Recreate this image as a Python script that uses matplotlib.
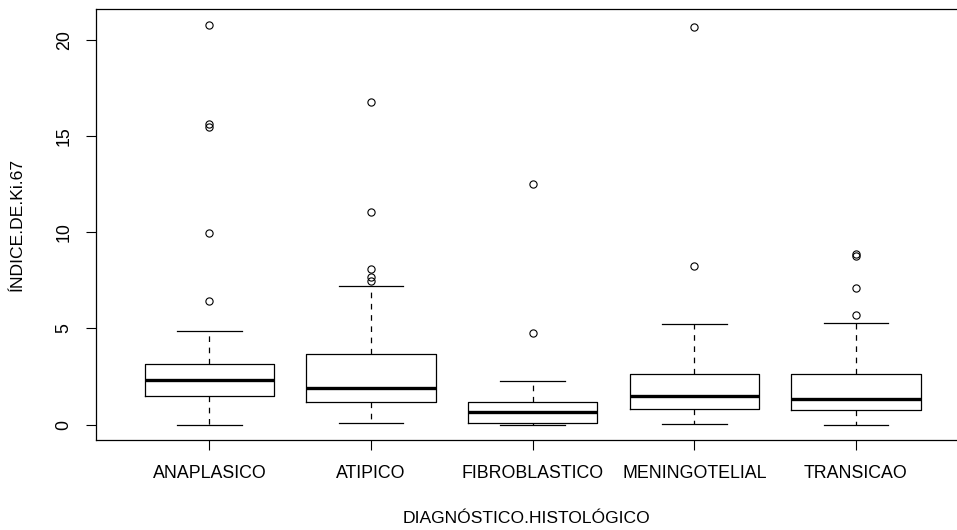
import matplotlib

matplotlib.use("Agg")
import matplotlib.pyplot as plt

plt.rcParams["font.family"] = ["Liberation Sans", "DejaVu Sans"]

# valores (boxplot do R)
categorias = ["ANAPLASICO", "ATIPICO", "FIBROBLASTICO", "MENINGOTELIAL", "TRANSICAO"]
q1 = [1.48, 1.16, 0.09, 0.82, 0.75]
medianas = [2.32, 1.89, 0.63, 1.47, 1.32]
q3 = [3.15, 3.68, 1.16, 2.60, 2.60]
whis_baixo = [0.0, 0.10, 0.0, 0.04, 0.0]
whis_alto = [4.87, 7.20, 2.26, 5.24, 5.30]
outliers = [
    [6.44, 9.96, 15.48, 15.62, 20.76],
    [7.45, 7.67, 8.06, 11.03, 16.75],
    [4.76, 12.48],
    [8.23, 20.64],
    [5.71, 7.10, 8.78, 8.88],
]

stats = []
for i, nome in enumerate(categorias):
    stats.append(
        {
            "label": nome,
            "q1": q1[i],
            "med": medianas[i],
            "q3": q3[i],
            "whislo": whis_baixo[i],
            "whishi": whis_alto[i],
            "fliers": outliers[i],
        }
    )

fig = plt.figure(figsize=(9.57, 5.30), dpi=100)
ax = fig.add_axes([0.1006, 0.1689, 0.912, 0.814])

ax.bxp(
    stats,
    positions=range(1, 6),
    widths=0.8,
    showcaps=True,
    boxprops=dict(color="black", linewidth=0.9),
    medianprops=dict(color="black", linewidth=2.4, solid_capstyle="butt"),
    whiskerprops=dict(color="black", linewidth=0.9, linestyle=(0, (4.5, 4.5))),
    capprops=dict(color="black", linewidth=0.9),
    flierprops=dict(marker="o", markerfacecolor="none", markeredgecolor="black",
                    markersize=5.2, markeredgewidth=0.8),
)

ax.set_xlim(0.3, 5.7)
ymax = max(max(o) for o in outliers)
ax.set_ylim(-0.04 * ymax, ymax * 1.04)

ax.set_xticks(range(1, 6))
ax.set_xticklabels(categorias)
ax.set_yticks([0, 5, 10, 15, 20])
for lbl in ax.get_yticklabels():
    lbl.set_rotation(90)
    lbl.set_va("center")

ax.tick_params(axis="both", direction="out", length=7, width=0.8, labelsize=12.8, colors="black")
ax.tick_params(axis="x", pad=11)
ax.tick_params(axis="y", pad=10)
for s in ax.spines.values():
    s.set_linewidth(0.9)
    s.set_color("black")

ax.set_xlabel("DIAGNÓSTICO.HISTOLÓGICO", fontsize=12.6, va="center")
ax.xaxis.set_label_coords(0.4935, -0.1797)
ax.set_ylabel("ÍNDICE.DE.Ki.67", fontsize=12.6, va="center")
ax.yaxis.set_label_coords(-0.0909, 0.5)

fig.savefig("out.png", dpi=100, facecolor="white")
